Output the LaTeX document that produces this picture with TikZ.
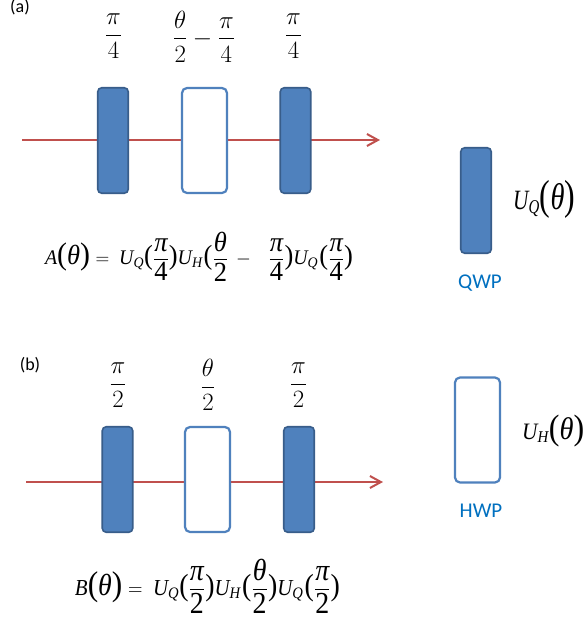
\documentclass[tikz,border=0pt]{standalone}
\usepackage{amsmath}
\usepackage{graphicx}
\usepackage{fontspec}
\usetikzlibrary{arrows.meta}
\newfontfamily\tnr{Liberation Serif}
\newfontfamily\calfont{Carlito}
\definecolor{qfill}{HTML}{4F81BD}
\definecolor{qdraw}{HTML}{385D8A}
\definecolor{hdraw}{HTML}{4F81BD}
\definecolor{raycol}{HTML}{C0504D}
\definecolor{lblcol}{HTML}{0070C0}
\newcommand{\Ti}[1]{\text{\tnr\itshape #1}}
\newcommand{\Fi}[1]{\text{\fontsize{24}{24}\selectfont\tnr\itshape #1}}
\newcommand{\Fr}[1]{\text{\fontsize{24}{24}\selectfont\tnr #1}}
\newcommand{\Pa}[1]{\text{\fontsize{24}{24}\selectfont\tnr #1}}
\newcommand{\Pb}[1]{\text{\fontsize{27}{27}\selectfont\tnr #1}}
\newcommand{\Fq}[2]{\dfrac{\Fi{#1}}{\Fr{#2}}}
\tikzset{
  qwp/.style={draw=qdraw, fill=qfill, line width=1.6pt, rounded corners=4pt,
    minimum width=30.5pt, minimum height=105.5pt, inner sep=0pt},
  hwp/.style={draw=hdraw, fill=white, line width=2.2pt, rounded corners=5pt,
    minimum width=45pt, minimum height=105pt, inner sep=0pt},
  ray/.style={draw=raycol, line width=2pt, -{Straight Barb[length=11pt,width=12pt,line width=2pt]}},
  ang/.style={inner sep=0pt, font=\fontsize{24}{28}\selectfont},
  eqn/.style={inner sep=0pt, font=\fontsize{18}{22}\selectfont},
  panel/.style={inner sep=0pt, font=\calfont\fontsize{18}{20}\selectfont},
  wpname/.style={inner sep=0pt, text=lblcol, font=\calfont\fontsize{21}{24}\selectfont},
}
\begin{document}
\begin{tikzpicture}[x=1pt,y=-1pt]
\useasboundingbox (0,0) rectangle (584,619);
\fill[white] (0,0) rectangle (584,619);
% ---------- panel (a)
\node[panel] (pa) at (20,7) {(a)};
\node[ang] (la1) at (113.5,36.5) {$\dfrac{\pi}{4}$};
\node[ang] (la2) at (204,36.5) {$\dfrac{\theta}{2}-\dfrac{\pi}{4}$};
\node[ang] (la3) at (293.5,36.5) {$\dfrac{\pi}{4}$};
\coordinate (ra0) at (22,140);
\coordinate (ra1) at (380,140);
\draw[ray] (ra0) -- (ra1);
\node[qwp] (ba1) at (113,140.5) {};
\node[hwp] (ba2) at (204.5,140.5) {};
\node[qwp] (ba3) at (295.5,140.5) {};
\node[eqn] (eqa) at (199,256.5) {\resizebox*{308pt}{49pt}{$\Ti{A}\Pb{(}\Fi{θ}\Pb{)}\hspace{5pt}{=}\hspace{9pt}\Ti{U}_{\Ti{Q}}\Pa{(}\Fq{π}{4}\Pa{)}\Ti{U}_{\Ti{H}}\hspace{1pt}\Pa{(}\Fq{θ}{2}\hspace{7pt}{-}\hspace{16pt}\Fq{π}{4}\Pa{)}\Ti{U}_{\Ti{Q}}\hspace{1pt}\Pa{(}\Fq{π}{4}\Pa{)}$}};
% ---------- legend QWP
\node[qwp] (qleg) at (476,200.5) {};
\node[eqn, anchor=west] (uq) at (513,199) {\resizebox*{62pt}{38pt}{$\Ti{U}_{\Ti{Q}}\Pb{(}\Fi{θ}\Pb{)}$}};
\node[wpname] (qname) at (480,283.5) {QWP};
% ---------- panel (b)
\node[panel] (pb) at (30,365) {(b)};
\node[ang] (lb1) at (118,385) {$\dfrac{\pi}{2}$};
\node[ang] (lb2) at (208,385) {$\dfrac{\theta}{2}$};
\node[ang] (lb3) at (298.5,385) {$\dfrac{\pi}{2}$};
\coordinate (rb0) at (26,482);
\coordinate (rb1) at (383,482);
\draw[ray] (rb0) -- (rb1);
\node[qwp] (bb1) at (117.5,479.5) {};
\node[hwp] (bb2) at (207.5,479.5) {};
\node[qwp] (bb3) at (299,479.5) {};
\node[eqn] (eqb) at (207.5,586) {\resizebox*{265pt}{54pt}{$\Ti{B}\Pb{(}\Fi{θ}\Pb{)}\hspace{5pt}{=}\hspace{9pt}\Ti{U}_{\Ti{Q}}\Pa{(}\Fq{π}{2}\Pa{)}\Ti{U}_{\Ti{H}}\hspace{1pt}\Pa{(}\Fq{θ}{2}\Pa{)}\Ti{U}_{\Ti{Q}}\hspace{1pt}\Pa{(}\Fq{π}{2}\Pa{)}$}};
% ---------- legend HWP
\node[hwp] (hleg) at (477.5,430) {};
\node[eqn, anchor=west] (uh) at (522,431) {\resizebox*{62pt}{32pt}{$\Ti{U}_{\Ti{H}}\Pb{(}\Fi{θ}\Pb{)}$}};
\node[wpname] (hname) at (481,510.5) {HWP};
\end{tikzpicture}
\end{document}
